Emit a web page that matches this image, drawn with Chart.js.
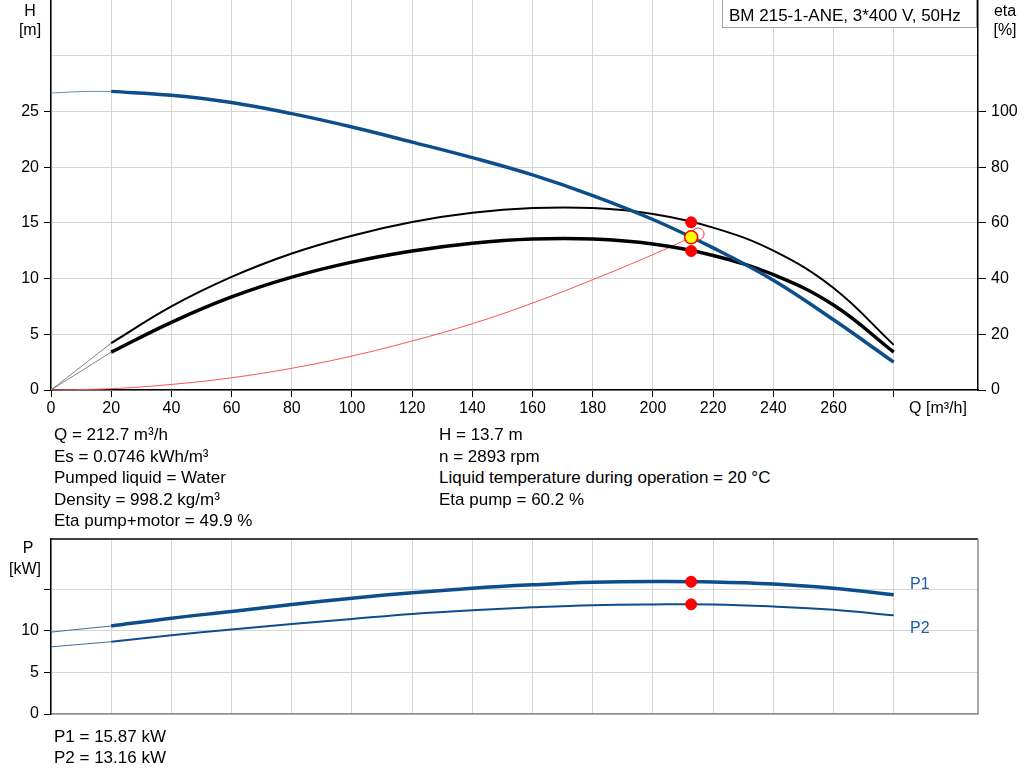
<!DOCTYPE html>
<html><head><meta charset="utf-8">
<script src="https://cdn.jsdelivr.net/npm/chart.js@4.4.0/dist/chart.umd.min.js"></script>
<style>
body{margin:0;width:1024px;height:781px;background:#fff;position:relative;overflow:hidden;font-family:"Liberation Sans",Arial,sans-serif;color:#000}
canvas{position:absolute;left:0}
.t{position:absolute;white-space:nowrap;font-size:17px;line-height:1;transform:translateY(-50%);z-index:2}
.c{transform:translate(-50%,-50%)}
#legend{position:absolute;left:722px;top:-1px;width:255px;height:29px;border:1px solid #a0a0a0;background:#fff;z-index:3;box-sizing:border-box}
</style></head><body>
<canvas id="topc" width="1024" height="445" style="top:-20px;width:1024px;height:445px"></canvas>
<canvas id="botc" width="1024" height="215" style="top:519px;width:1024px;height:215px"></canvas>
<div id="legend"></div>
<div id="texts"></div>
<script>
// ---------------- data ----------------
const Q_MAIN = [20,40,60,80,100,120,140,160,180,200,220,240,260,280];
const Q_LEAD_H = [0,10,20];
const H_LEAD = [26.65,26.78,26.8];
const H_MAIN = [26.8,26.45,25.8,24.8,23.6,22.25,20.85,19.3,17.45,15.3,12.75,9.85,6.3,2.5];
const Q_LEAD = [0,20];
const ETA_PUMP_LEAD = [0,16.8];
const ETA_PUMP = [16.8,30.0,40.6,49.0,55.4,60.3,63.6,65.3,65.3,63.2,58.3,50.0,36.6,16.2];
const ETA_TOT_LEAD = [0,13.6];
const ETA_TOT = [13.6,24.3,33.4,40.5,45.9,49.9,52.7,54.2,54.2,52.4,48.3,41.4,30.5,13.6];
const Q_SYS = [0,20,40,60,80,100,120,140,160,180,200,212.7];
const H_SYS = [0,0.12,0.5,1.1,1.95,3.05,4.4,5.95,7.8,9.9,12.15,13.7];
const P1_LEAD = [9.83,10.56];
const P1 = [10.56,11.5,12.3,13.15,13.9,14.55,15.1,15.5,15.8,15.9,15.85,15.6,15.1,14.3];
const P2_LEAD = [8.06,8.67];
const P2 = [8.67,9.45,10.15,10.8,11.4,12.0,12.45,12.8,13.06,13.15,13.15,12.9,12.5,11.85];
const OP_Q = [212.7];
const OP_H = [13.7];
const OP_ETA_PUMP = [60.2];
const OP_ETA_TOT = [49.9];
const OP_P1 = [15.87];
const OP_P2 = [13.16];
const TOL_Q = [215.0];
const TOL_H = [14.0];
const X_TICK_MAX_LABEL = 260;
const H_LABEL_MAX = 25;
const ETA_LABEL_MAX = 100;
const P_LABEL_MAX = 10;
const TITLE = "BM 215-1-ANE, 3*400 V, 50Hz";
const INFO_LEFT = ["Q = 212.7 m³/h","Es = 0.0746 kWh/m³","Pumped liquid = Water","Density = 998.2 kg/m³","Eta pump+motor = 49.9 %"];
const INFO_RIGHT = ["H = 13.7 m","n = 2893 rpm","Liquid temperature during operation = 20 °C","Eta pump = 60.2 %"];
const INFO_POWER = ["P1 = 15.87 kW","P2 = 13.16 kW"];

// ---------------- helpers ----------------
const pts = (xs, ys) => xs.map((x, i) => ({x, y: ys[i]}));
const FONT = '"Liberation Sans", Arial, sans-serif';
const BLUE = '#0c4e8c';
const GRID = '#d6d6d6';
Chart.defaults.font.family = FONT;
Chart.defaults.color = '#000';

function addText(txt, x, y, cls, extra) {
  const d = document.createElement('div');
  d.className = 't ' + (cls || '');
  d.style.left = x + 'px';
  d.style.top = y + 'px';
  if (extra) Object.assign(d.style, extra);
  d.textContent = txt;
  document.getElementById('texts').appendChild(d);
}
document.getElementById('legend').appendChild(Object.assign(document.createElement('div'), {textContent: TITLE}));
Object.assign(document.getElementById('legend').firstChild.style, {position:'absolute', left:'6px', top:'14.5px', transform:'translateY(-50%)', fontSize:'17px', whiteSpace:'nowrap', lineHeight:'1'});

addText('H', 30, 11, 'c', {fontSize:'16px'});
addText('[m]', 30, 30, 'c', {fontSize:'16px'});
addText('eta', 1005, 11, 'c', {fontSize:'16px'});
addText('[%]', 1005, 30, 'c', {fontSize:'16px'});
addText('Q [m³/h]', 938, 408, 'c', {fontSize:'16px'});
addText('P', 28, 548, 'c', {fontSize:'16px'});
addText('[kW]', 25, 569, 'c', {fontSize:'16px'});
addText('P1', 910, 584, '', {fontSize:'16px', color:'#1d5ca6'});
addText('P2', 910, 628, '', {fontSize:'16px', color:'#1d5ca6'});
INFO_LEFT.forEach((s, i) => addText(s, 54, 434 + i * 21.5));
INFO_RIGHT.forEach((s, i) => addText(s, 439, 434 + i * 21.5));
INFO_POWER.forEach((s, i) => addText(s, 54, 736 + i * 21));

const lineDs = (data, color, width, yAxisID, order) => ({
  data, borderColor: color, borderWidth: width, yAxisID, order,
  pointRadius: 0, tension: 0.4, fill: false, borderCapStyle: 'butt'
});
const pointDs = (data, bg, border, bw, r, yAxisID, order) => ({
  data, showLine: false, yAxisID, order, pointRadius: r, pointBackgroundColor: bg,
  pointBorderColor: border, pointBorderWidth: bw, backgroundColor: bg, borderColor: border
});
const every = (step) => (s) => { s.ticks = s.ticks.filter(t => Math.abs(t.value / step - Math.round(t.value / step)) < 1e-9); };

// ---------------- top chart ----------------
new Chart(document.getElementById('topc'), {
  type: 'line',
  data: { datasets: [
    lineDs(pts(Q_SYS, H_SYS), '#ff5050', 1, 'y', 9),
    lineDs(pts(Q_LEAD, ETA_PUMP_LEAD), '#808080', 1, 'y2', 8),
    lineDs(pts(Q_LEAD, ETA_TOT_LEAD), '#808080', 1, 'y2', 8),
    lineDs(pts(Q_LEAD_H, H_LEAD), '#6d86a8', 1, 'y', 8),
    lineDs(pts(Q_MAIN, ETA_PUMP), '#000', 2, 'y2', 6),
    lineDs(pts(Q_MAIN, ETA_TOT), '#000', 3.5, 'y2', 5),
    lineDs(pts(Q_MAIN, H_MAIN), BLUE, 3.5, 'y', 4),
    pointDs(pts(TOL_Q, TOL_H), 'rgba(0,0,0,0)', '#ff3030', 1, 6, 'y', 3),
    pointDs(pts(OP_Q, OP_ETA_PUMP), '#ff0000', '#ff0000', 1, 5.5, 'y2', 2),
    pointDs(pts(OP_Q, OP_ETA_TOT), '#ff0000', '#ff0000', 1, 5.5, 'y2', 2),
    pointDs(pts(OP_Q, OP_H), '#ffff00', '#ff0000', 1.5, 6.5, 'y', 1)
  ]},
  options: {
    responsive: false, animation: false, devicePixelRatio: 1,
    layout: { padding: { top: 20, left: 0, right: 0, bottom: 0 } },
    plugins: { legend: { display: false }, tooltip: { enabled: false } },
    scales: {
      x: {
        type: 'linear', min: 0, max: 308,
        afterBuildTicks: every(20),
        afterFit: s => { s.height = 35; },
        ticks: { stepSize: 20, autoSkip: false, maxRotation: 0, padding: 2, font: { size: 16 }, color: '#000',
          callback: v => (v <= X_TICK_MAX_LABEL ? String(v) : '') },
        grid: { color: GRID, tickColor: '#000', tickLength: 7, lineWidth: 1 },
        border: { color: '#000', width: 1.5 }
      },
      y: {
        position: 'left', min: 0, max: 35,
        afterBuildTicks: s => { every(5)(s); s.ticks = s.ticks.filter(t => t.value <= 30); },
        afterFit: s => { s.width = 51; },
        ticks: { stepSize: 5, padding: 5, font: { size: 16 }, color: '#000',
          callback: v => (v <= H_LABEL_MAX ? String(v) : '') },
        grid: { color: GRID, tickLength: 7, lineWidth: 1,
          tickColor: c => (c.tick && c.tick.value <= H_LABEL_MAX ? '#000' : 'rgba(0,0,0,0)') },
        border: { color: '#000', width: 1.5 }
      },
      y2: {
        position: 'right', min: 0, max: 140,
        afterBuildTicks: every(20),
        afterFit: s => { s.width = 46; },
        ticks: { stepSize: 20, padding: 5, font: { size: 16 }, color: '#000',
          callback: v => (v <= ETA_LABEL_MAX ? String(v) : '') },
        grid: { drawOnChartArea: false, tickLength: 8,
          tickColor: c => (c.tick && c.tick.value <= ETA_LABEL_MAX ? '#000' : 'rgba(0,0,0,0)') },
        border: { color: '#000', width: 1.5 }
      }
    }
  }
});

// ---------------- bottom chart ----------------
const frame = {
  id: 'frame',
  afterDraw(chart) {
    const { ctx, chartArea: a } = chart;
    ctx.save();
    ctx.lineWidth = 1.5;
    ctx.strokeStyle = '#000';
    ctx.beginPath(); ctx.moveTo(a.left, a.top); ctx.lineTo(a.right, a.top); ctx.stroke();
    ctx.strokeStyle = '#8a8a8a';
    ctx.beginPath(); ctx.moveTo(a.right, a.top); ctx.lineTo(a.right, a.bottom); ctx.stroke();
    ctx.restore();
  }
};
new Chart(document.getElementById('botc'), {
  type: 'line',
  data: { datasets: [
    lineDs(pts(Q_LEAD, P1_LEAD), '#3f6a9a', 1, 'y', 8),
    lineDs(pts(Q_LEAD, P2_LEAD), '#3f6a9a', 1, 'y', 8),
    lineDs(pts(Q_MAIN, P1), BLUE, 3.5, 'y', 5),
    lineDs(pts(Q_MAIN, P2), BLUE, 2, 'y', 5),
    pointDs(pts(OP_Q, OP_P1), '#ff0000', '#ff0000', 1, 5.5, 'y', 1),
    pointDs(pts(OP_Q, OP_P2), '#ff0000', '#ff0000', 1, 5.5, 'y', 1)
  ]},
  options: {
    responsive: false, animation: false, devicePixelRatio: 1,
    layout: { padding: { top: 20, left: 0, right: 46, bottom: 20 } },
    plugins: { legend: { display: false }, tooltip: { enabled: false } },
    scales: {
      x: {
        type: 'linear', min: 0, max: 308,
        afterBuildTicks: every(20),
        afterFit: s => { s.height = 0; },
        ticks: { display: false, stepSize: 20 },
        grid: { color: GRID, drawTicks: false, lineWidth: 1 },
        border: { color: '#8a8a8a', width: 1.5 }
      },
      y: {
        min: 0, max: 21,
        afterBuildTicks: every(5),
        afterFit: s => { s.width = 51; },
        ticks: { stepSize: 5, padding: 5, font: { size: 16 }, color: '#000',
          callback: v => (v <= P_LABEL_MAX ? String(v) : '') },
        grid: { color: GRID, tickColor: '#000', tickLength: 7, lineWidth: 1 },
        border: { color: '#000', width: 1.5 }
      }
    }
  },
  plugins: [frame]
});
</script>
</body></html>
